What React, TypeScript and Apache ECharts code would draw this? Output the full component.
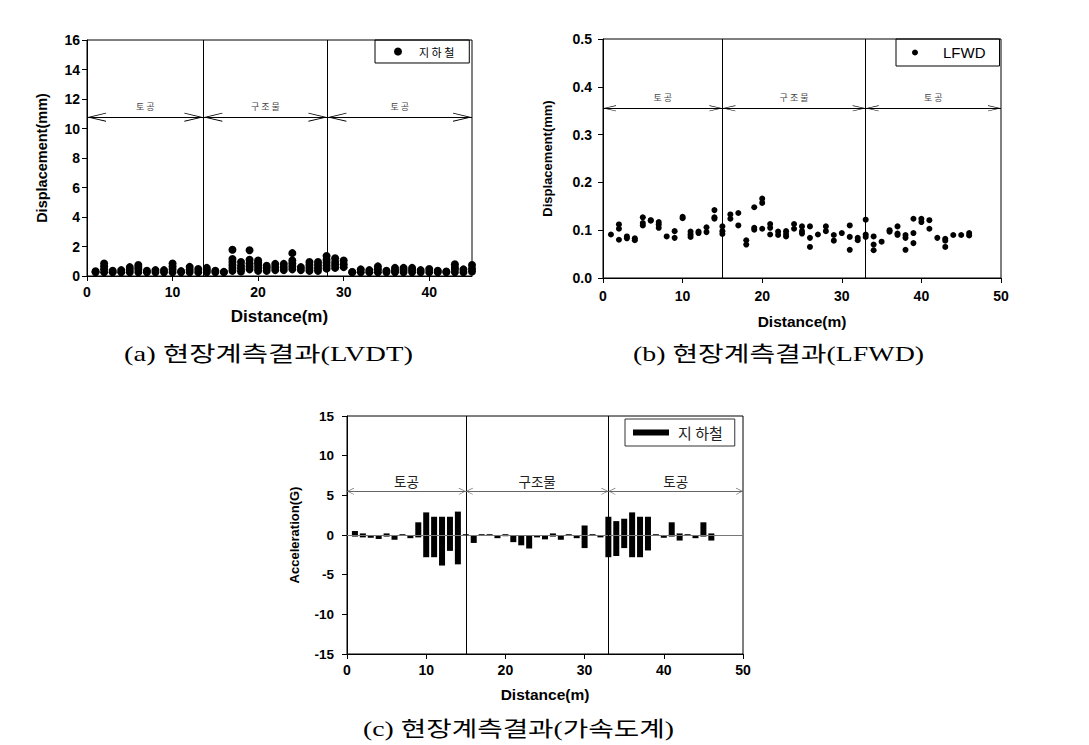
import React, { useEffect, useRef } from "react";
import * as echarts from "echarts";

// ---------- (a) LVDT displacement (mm) ----------
const lvdtDistance = [
  1, 2, 3, 4, 5, 6, 7, 8, 9, 10, 11, 12, 13, 14, 15, 16, 17, 18, 19, 20, 21, 22, 23,
  24, 25, 26, 27, 28, 29, 30, 31, 32, 33, 34, 35, 36, 37, 38, 39, 40, 41, 42, 43, 44, 45,
];
const lvdtReadings = [
  [0.25, 0.32],
  [0.25, 0.45, 0.65, 0.85],
  [0.25, 0.36],
  [0.25, 0.4],
  [0.25, 0.42, 0.6],
  [0.25, 0.45, 0.6, 0.75],
  [0.25, 0.36],
  [0.25, 0.4],
  [0.25, 0.4],
  [0.25, 0.45, 0.65, 0.85],
  [0.25, 0.33],
  [0.25, 0.42, 0.62],
  [0.25, 0.48],
  [0.25, 0.4, 0.55],
  [0.25, 0.36],
  [0.25, 0.28],
  [0.35, 0.55, 0.75, 0.95, 1.15, 1.78],
  [0.3, 0.5, 0.7, 0.95],
  [0.45, 0.65, 0.85, 1.1, 1.75],
  [0.35, 0.55, 0.75, 0.9, 1.05],
  [0.35, 0.55, 0.7],
  [0.4, 0.6, 0.82],
  [0.4, 0.6, 0.82],
  [0.45, 0.65, 0.85, 1.05, 1.55],
  [0.4, 0.6],
  [0.35, 0.55, 0.75, 0.95],
  [0.35, 0.55, 0.75, 0.95],
  [0.5, 0.7, 0.9, 1.1, 1.35],
  [0.55, 0.75, 0.95, 1.2],
  [0.6, 0.8, 1.05],
  [0.25, 0.27],
  [0.25, 0.45],
  [0.25, 0.4],
  [0.25, 0.45, 0.65],
  [0.25, 0.36],
  [0.25, 0.38, 0.55],
  [0.25, 0.4, 0.55],
  [0.25, 0.4, 0.55],
  [0.25, 0.4],
  [0.25, 0.48],
  [0.25, 0.36],
  [0.25, 0.3],
  [0.25, 0.45, 0.6, 0.8],
  [0.25, 0.45],
  [0.3, 0.5, 0.75],
];
const lvdtBounds = [0, 13.6, 28.1, 45];
const lvdtArrowLevel = 10.77;

// ---------- (b) LFWD displacement (mm) ----------
const lfwdDistance = [
  1, 2, 3, 4, 5, 6, 7, 8, 9, 10, 11, 12, 13, 14, 15, 16, 17, 18, 19, 20, 21, 22, 23,
  24, 25, 26, 27, 28, 29, 30, 31, 32, 33, 34, 35, 36, 37, 38, 39, 40, 41, 42, 43, 44, 45, 46,
];
const lfwdReadings = [
  [0.091],
  [0.112, 0.103, 0.08],
  [0.087, 0.083],
  [0.083, 0.079],
  [0.127, 0.115, 0.11],
  [0.121, 0.12],
  [0.117, 0.112, 0.105],
  [0.087],
  [0.098, 0.084],
  [0.128, 0.125],
  [0.097, 0.091, 0.086],
  [0.097, 0.094],
  [0.106, 0.096],
  [0.142, 0.127, 0.124],
  [0.108, 0.098, 0.092],
  [0.133, 0.124],
  [0.136, 0.11],
  [0.079, 0.07],
  [0.148, 0.105, 0.101],
  [0.166, 0.157, 0.103],
  [0.113, 0.105, 0.091],
  [0.097, 0.09],
  [0.098, 0.092, 0.087],
  [0.113, 0.103],
  [0.108, 0.098, 0.093],
  [0.108, 0.084, 0.065],
  [0.091],
  [0.108, 0.098],
  [0.09, 0.078],
  [0.094],
  [0.11, 0.086, 0.059],
  [0.084, 0.079],
  [0.122, 0.091, 0.086],
  [0.087, 0.07, 0.058],
  [0.076],
  [0.1, 0.097],
  [0.108, 0.093, 0.09],
  [0.09, 0.084, 0.059],
  [0.124, 0.094, 0.073],
  [0.124, 0.117],
  [0.121, 0.103],
  [0.084],
  [0.082, 0.078, 0.065],
  [0.09],
  [0.09],
  [0.094, 0.089],
];
const lfwdBounds = [0, 15, 33, 50];
const lfwdArrowLevel = 0.355;

// ---------- (c) Acceleration (G) ----------
const accelDistance = [
  1, 2, 3, 4, 5, 6, 7, 8, 9, 10, 11, 12, 13, 14, 15, 16, 17, 18, 19, 20, 21, 22, 23,
  24, 25, 26, 27, 28, 29, 30, 31, 32, 33, 34, 35, 36, 37, 38, 39, 40, 41, 42, 43, 44, 45, 46,
];
const accelUpper = [
  0.5, 0.2, 0, 0, 0.2, 0, 0.1, 0, 1.6, 2.85, 2.3, 2.3, 2.3, 2.95, 0.1, 0, 0.1, 0.1, 0, 0.1,
  0, 0, 0, 0, 0, 0.2, 0, 0.1, 0, 1.2, 0.1, 0, 2.3, 1.75, 2.05, 2.85, 2.3, 2.3, 0.1, 0,
  1.6, 0.2, 0.1, 0, 1.6, 0.2,
];
const accelLower = [
  -0.2, -0.3, -0.35, -0.5, -0.2, -0.6, -0.1, -0.4, -0.3, -2.8, -2.8, -3.85, -2.0, -3.7,
  -0.1, -1.0, -0.1, -0.1, -0.4, -0.15, -0.9, -1.3, -1.7, -0.3, -0.55, -0.2, -0.6, -0.1,
  -0.4, -1.65, -0.1, -0.3, -2.8, -2.65, -1.65, -2.8, -2.8, -1.95, -0.1, -0.35, -0.2,
  -0.7, -0.1, -0.4, -0.2, -0.7,
];
const accelBounds = [0, 15, 33, 50];
const accelArrowLevel = 5.5;

const sectionNamesAB = ["토 공", "구 조 물", "토 공"];
const sectionNamesC = ["토공", "구조물", "토공"];

const CHEVRON = "path://M0,10 L5,0 L10,10 L9,10 L5,2 L1,10 Z";
const SANS = '"Liberation Sans", Arial, sans-serif';
const KR = '"Noto Sans CJK KR", sans-serif';
const SERIF = '"Liberation Serif", "Noto Sans CJK KR", serif';

function sectionMarks(
  bounds: number[],
  level: number,
  names: string[],
  size: [number, number],
  lineColor: string,
  labelStyle: any
) {
  const items: any[] = [];
  for (let i = 1; i < bounds.length - 1; i++) {
    items.push({ xAxis: bounds[i], label: { show: false }, lineStyle: { color: "#000", width: 1, type: "solid" } });
  }
  for (let i = 0; i < bounds.length - 1; i++) {
    const end = {
      symbol: CHEVRON,
      symbolSize: size,
      symbolOffset: [0, size[1] / 2],
    };
    items.push([
      {
        coord: [bounds[i], level],
        name: names[i],
        ...end,
        lineStyle: { color: lineColor, width: 1, type: "solid" },
        label: { show: true, position: "middle", formatter: names[i], ...labelStyle },
      },
      { coord: [bounds[i + 1], level], ...end },
    ]);
  }
  return items;
}

function axisCommon(font: string, size: number, margin: number) {
  return {
    axisLine: { show: true, onZero: false, lineStyle: { color: "#000", width: 1 } },
    axisTick: { show: true, inside: false, length: 5, lineStyle: { color: "#000", width: 1 } },
    splitLine: { show: false },
    axisLabel: { color: "#000", fontFamily: font, fontWeight: "bold", fontSize: size, margin },
  };
}

export default function App() {
  const ref = useRef<HTMLDivElement>(null);

  useEffect(() => {
    if (!ref.current) return;
    document.body.style.margin = "0";
    const chart = echarts.init(ref.current, null, { renderer: "svg" });

    const lvdtData = lvdtDistance.flatMap((d, i) => lvdtReadings[i].map((v) => [d, v]));
    const lfwdData = lfwdDistance.flatMap((d, i) => lfwdReadings[i].map((v) => [d, v]));
    const upData = accelDistance.map((d, i) => [d, accelUpper[i]]);
    const lowData = accelDistance.map((d, i) => [d, accelLower[i]]);

    const option: any = {
      animation: false,
      backgroundColor: "#fff",
      grid: [
        { left: 87, top: 40, width: 385, height: 236, show: true, borderColor: "#000", borderWidth: 1 },
        { left: 603, top: 39, width: 398, height: 239, show: true, borderColor: "#000", borderWidth: 1 },
        { left: 347, top: 416, width: 396, height: 238, show: true, borderColor: "#000", borderWidth: 1 },
      ],
      xAxis: [
        {
          type: "value", gridIndex: 0, min: 0, max: 45, interval: 10,
          ...axisCommon(SANS, 14, 9),
          axisLabel: { ...axisCommon(SANS, 14, 9).axisLabel, showMaxLabel: false },
          name: "Distance(m)", nameLocation: "middle", nameGap: 32,
          nameTextStyle: { fontFamily: SANS, fontWeight: "bold", fontSize: 17, color: "#000" },
        },
        {
          type: "value", gridIndex: 1, min: 0, max: 50, interval: 10,
          ...axisCommon(SANS, 14, 11),
          name: "Distance(m)", nameLocation: "middle", nameGap: 35,
          nameTextStyle: { fontFamily: SANS, fontWeight: "bold", fontSize: 15.5, color: "#000" },
        },
        {
          type: "value", gridIndex: 2, min: 0, max: 50, interval: 10,
          ...axisCommon(SANS, 14, 9),
          name: "Distance(m)", nameLocation: "middle", nameGap: 32,
          nameTextStyle: { fontFamily: SANS, fontWeight: "bold", fontSize: 15.5, color: "#000" },
        },
      ],
      yAxis: [
        {
          type: "value", gridIndex: 0, min: 0, max: 16, interval: 2,
          ...axisCommon(SANS, 14, 7),
          name: "Displacement(mm)", nameLocation: "middle", nameGap: 38,
          nameTextStyle: { fontFamily: SANS, fontWeight: "bold", fontSize: 14.5, color: "#000" },
        },
        {
          type: "value", gridIndex: 1, min: 0, max: 0.5, interval: 0.1,
          ...axisCommon(SANS, 14, 11),
          axisLabel: { ...axisCommon(SANS, 14, 11).axisLabel, formatter: (v: number) => v.toFixed(1) },
          name: "Displacement(mm)", nameLocation: "middle", nameGap: 49,
          nameTextStyle: { fontFamily: SANS, fontWeight: "bold", fontSize: 13, color: "#000" },
        },
        {
          type: "value", gridIndex: 2, min: -15, max: 15, interval: 5,
          ...axisCommon(SANS, 13.5, 13),
          name: "Acceleration(G)", nameLocation: "middle", nameGap: 46,
          nameTextStyle: { fontFamily: SANS, fontWeight: "bold", fontSize: 13, color: "#000" },
        },
      ],
      legend: [
        {
          data: ["지 하 철"], left: 375, top: 40, orient: "horizontal",
          padding: [6, 15, 6, 19], itemWidth: 8, itemHeight: 8, icon: "circle",
          borderColor: "#000", borderWidth: 1, selectedMode: false,
          textStyle: { fontFamily: KR, fontSize: 11, color: "#000", padding: [0, 0, 0, 12] },
        },
        {
          data: ["LFWD"], left: 896, top: 39, orient: "horizontal",
          padding: [6, 14, 6, 16], itemWidth: 6, itemHeight: 6, icon: "circle",
          borderColor: "#000", borderWidth: 1, selectedMode: false,
          textStyle: { fontFamily: SANS, fontSize: 15, color: "#000", padding: [0, 0, 0, 20] },
        },
        {
          data: ["지 하철"], left: 625, top: 419, orient: "horizontal",
          padding: [6, 12, 6, 8], itemWidth: 36, itemHeight: 6, icon: "rect",
          borderColor: "#333", borderWidth: 1, selectedMode: false,
          textStyle: { fontFamily: KR, fontSize: 15, color: "#222", padding: [0, 0, 0, 4] },
        },
      ],
      series: [
        {
          name: "지 하 철", type: "scatter", xAxisIndex: 0, yAxisIndex: 0,
          data: lvdtData, symbol: "circle", symbolSize: 8,
          itemStyle: { color: "#000", opacity: 1 }, silent: true,
          markLine: {
            silent: true, symbol: "none", animation: false,
            data: sectionMarks(lvdtBounds, lvdtArrowLevel, sectionNamesAB, [9, 19], "#000", {
              fontFamily: KR, fontSize: 9, color: "#444", distance: 6,
            }),
          },
        },
        {
          name: "LFWD", type: "scatter", xAxisIndex: 1, yAxisIndex: 1,
          data: lfwdData, symbol: "circle", symbolSize: 6,
          itemStyle: { color: "#000", opacity: 1 }, silent: true,
          markLine: {
            silent: true, symbol: "none", animation: false,
            data: sectionMarks(lfwdBounds, lfwdArrowLevel, sectionNamesAB, [6, 13], "#000", {
              fontFamily: KR, fontSize: 9, color: "#444", distance: 6,
            }),
          },
        },
        {
          name: "지 하철", type: "bar", xAxisIndex: 2, yAxisIndex: 2,
          data: upData, barWidth: 6, barGap: "-100%",
          itemStyle: { color: "#000" }, silent: true,
          markLine: {
            silent: true, symbol: "none", animation: false,
            data: [
              { yAxis: 0, label: { show: false }, lineStyle: { color: "#777", width: 1, type: "solid" } },
              ...sectionMarks(accelBounds, accelArrowLevel, sectionNamesC, [7, 7], "#666", {
                fontFamily: KR, fontSize: 13.5, color: "#222", distance: 4,
              }),
            ],
          },
        },
        {
          name: "지 하철 (min)", type: "bar", xAxisIndex: 2, yAxisIndex: 2,
          data: lowData, barWidth: 6, barGap: "-100%",
          itemStyle: { color: "#000" }, silent: true,
        },
      ],
      graphic: [
        {
          type: "text", x: 268.5, y: 354, scaleX: 1.36,
          style: { text: "(a) 현장계측결과(LVDT)", fontSize: 21, fontFamily: SERIF, fill: "#000", align: "center", verticalAlign: "middle" },
        },
        {
          type: "text", x: 778.5, y: 354, scaleX: 1.33,
          style: { text: "(b) 현장계측결과(LFWD)", fontSize: 21, fontFamily: SERIF, fill: "#000", align: "center", verticalAlign: "middle" },
        },
        {
          type: "text", x: 518.5, y: 729, scaleX: 1.32,
          style: { text: "(c) 현장계측결과(가속도계)", fontSize: 21, fontFamily: SERIF, fill: "#000", align: "center", verticalAlign: "middle" },
        },
      ],
    };

    chart.setOption(option);
    return () => chart.dispose();
  }, []);

  return (
    <div
      ref={ref}
      style={{ position: "absolute", left: 0, top: 0, width: 1089, height: 745, background: "#fff" }}
    />
  );
}
